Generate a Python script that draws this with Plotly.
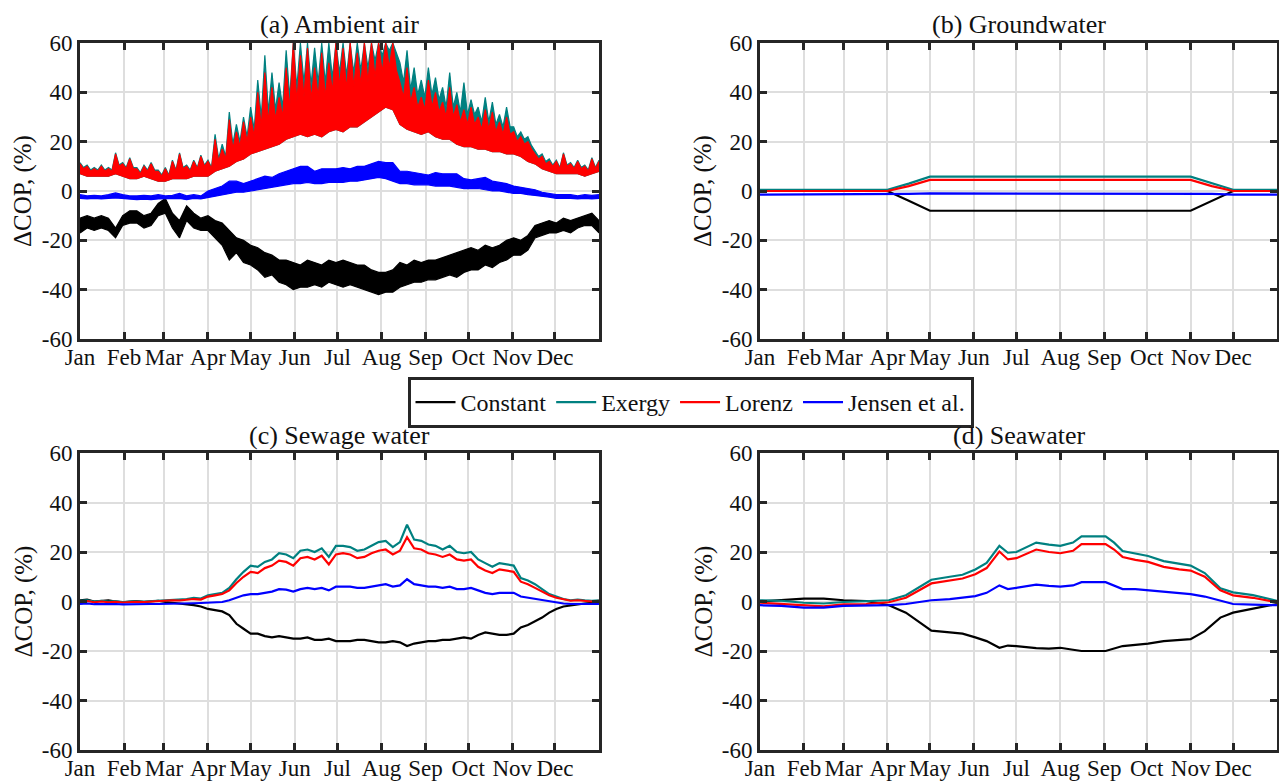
import plotly.graph_objects as go
from plotly.subplots import make_subplots

# ---------------- data ----------------
month_ticks = [0, 31, 59, 90, 120, 151, 181, 212, 243, 273, 304, 334]
month_labels = ["Jan", "Feb", "Mar", "Apr", "May", "Jun", "Jul", "Aug", "Sep", "Oct", "Nov", "Dec"]
y_ticks = [-60, -40, -20, 0, 20, 40, 60]

series_names = ["Constant", "Exergy", "Lorenz", "Jensen et al."]
series_colors = ["#000000", "#008080", "#ff0000", "#0000ff"]

# (a) Ambient air: spike tops, solid-band tops and lower envelopes of the hourly band, every 5 days
air_days = list(range(0, 366, 5))
air_lorenz_hi = [11, 10, 9, 10, 9, 15, 11, 13, 9, 10, 11, 8, 9, 12, 15, 10, 12, 14, 12, 21,
                 17, 29, 24, 28, 30, 40, 48, 42, 38, 50, 60, 55, 58, 50, 56, 52, 60, 58, 60, 56,
                 60, 60, 60, 60, 60, 44, 50, 42, 38, 45, 40, 36, 42, 35, 33, 34, 30, 33, 32, 28,
                 30, 24, 22, 20, 15, 14, 12, 12, 15, 11, 12, 10, 13, 12]
air_lorenz_mid = [9, 8, 8, 8, 8, 10, 9, 9, 7, 8, 8, 6, 6, 8, 9, 8, 9, 10, 9, 12,
                  13, 17, 18, 20, 22, 26, 28, 29, 30, 33, 36, 38, 37, 38, 38, 40, 42, 41, 42, 43,
                  44, 46, 48, 50, 49, 38, 36, 34, 33, 34, 32, 30, 30, 28, 27, 27, 25, 25, 24, 23,
                  23, 20, 19, 17, 13, 11, 10, 9, 10, 9, 9, 8, 9, 10]
air_lorenz_lo = [7, 6, 6, 6, 6, 7, 6, 5, 5, 6, 5, 4, 4, 5, 5, 5, 6, 6, 6, 8,
                 9, 10, 12, 13, 15, 16, 17, 18, 19, 21, 22, 23, 22, 23, 22, 24, 25, 24, 26, 26,
                 28, 30, 32, 34, 33, 27, 25, 24, 23, 24, 22, 21, 21, 19, 18, 18, 17, 17, 16, 16,
                 15, 15, 14, 12, 11, 9, 8, 7, 7, 7, 7, 6, 7, 8]
air_exergy_hi = [11.5, 10.5, 9.5, 10.5, 9.5, 15.5, 11.5, 13.5, 9.5, 10.5, 11.5, 8.5, 9.5, 12.5, 15.5,
                 10.5, 12.5, 14.5, 12.5, 23, 19, 32, 27, 30, 34, 45, 55, 48, 44, 57, 60, 60, 60, 58,
                 60, 60, 60, 60, 60, 60, 60, 60, 60, 60, 60, 52, 57, 50, 45, 50, 46, 42, 48, 40, 44,
                 37, 34, 38, 36, 31, 34, 26, 24, 22, 16, 15, 13, 12.5, 15.5, 11.5, 12.5, 10.5, 13.5, 12.5]
air_exergy_mid = [9.5, 8.5, 8.5, 8.5, 8.5, 10.5, 9.5, 9.5, 7.5, 8.5, 8.5, 6.5, 6.5, 8.5, 9.5,
                  8.5, 9.5, 10.5, 9.5, 13, 14, 19, 20, 22, 25, 30, 32, 33, 34, 38, 42, 44, 43, 44,
                  44, 46, 48, 47, 48, 49, 50, 53, 55, 57, 56, 44, 41, 39, 38, 39, 37, 34, 34, 32,
                  31, 31, 28, 28, 27, 26, 26, 22, 21, 18.5, 14, 12, 10.5, 9.5, 10.5, 9.5, 9.5, 8.5, 9.5, 10.5]
air_jensen_hi = [-1.5, -2, -1.8, -2, -1.5, -0.8, -1.5, -2, -2, -1.8, -2, -1.5, -2, -1.8, -1, -2,
                 -1.5, -2, 0, 1, 2, 4, 4, 3, 4, 5, 6, 5.5, 7, 8, 9, 10, 10, 8, 9, 9, 9, 9.5, 9, 10,
                 10, 11, 12, 11.5, 11.5, 8, 8, 7.5, 7, 6.5, 7.5, 7, 7, 7, 5, 4.5, 5, 5.5, 4, 3.5,
                 3, 2, 1.5, 1, 0.5, -0.5, -1, -1.5, -1.5, -1.5, -2, -1.5, -1.8, -1.5]
air_jensen_lo = [-3, -3.2, -3, -3.2, -3, -2.8, -3, -3.3, -3.5, -3.3, -3.5, -3.2, -3.3, -3, -3, -3.5,
                 -3, -3.2, -2.5, -2, -1.5, -1, -0.5, -0.5, 0, 0.5, 1, 1.5, 2, 2.5, 3, 3, 3.5, 3, 3,
                 3.5, 3.5, 3.5, 4, 4, 4.5, 5, 5.5, 5, 4, 3, 3, 2.5, 2.5, 2.5, 2, 2, 2, 1.5, 1, 1, 1,
                 0.5, 0, 0, -0.5, -1, -1, -1.5, -1.8, -2.3, -2.5, -3, -3, -3, -3.2, -3, -3.2, -3]
air_constant_hi = [-11, -10, -11, -10, -11, -15, -10, -8, -8, -10, -9, -5, -3, -9, -12, -6, -9, -11,
                   -10, -12, -13, -16, -19, -20, -22, -23, -25, -26, -28, -28, -29, -30, -28, -29,
                   -30, -28, -29, -28, -29, -30, -30, -32, -33, -33, -32, -29, -30, -28, -29, -28,
                   -28, -27, -26, -25, -24, -23, -24, -22, -23, -22, -20, -19, -20, -18, -14, -13,
                   -12, -13, -11, -12, -11, -10, -9, -12]
air_constant_lo = [-17, -15, -16, -15, -16, -19, -14, -13, -13, -15, -14, -10, -9, -15, -19, -12,
                   -15, -16, -16, -19, -22, -28, -25, -29, -30, -32, -35, -34, -37, -38, -40, -39,
                   -39, -38, -39, -37, -38, -39, -38, -39, -40, -41, -42, -41, -41, -39, -38, -37,
                   -37, -36, -36, -35, -34, -35, -33, -32, -32, -30, -31, -29, -28, -26, -26, -24,
                   -19, -18, -17, -17, -16, -17, -15, -14, -14, -17]

# (b) Groundwater
gw_days = [0, 90, 105, 120, 304, 319, 334, 365]
gw_constant = [0, 0, -4, -8, -8, -4, 0, 0]
gw_exergy = [0.5, 0.5, 3, 5.8, 5.8, 3, 0.5, 0.5]
gw_lorenz = [0, 0, 2, 4.5, 4.5, 2, 0, 0]
gw_jensen = [-1.5, -1.5, -1.2, -1, -1, -1.2, -1.5, -1.5]

# (c) Sewage water, every 5 days
sew_days = list(range(0, 366, 5))
sew_exergy = [0.3, 0.5, 0, 0.3, 0, 0.2, -0.2, 0, 0.1, 0, 0.2, 0.3, 0.5, 0.8, 0.7, 1, 1.5, 1.2, 2.5,
              3, 3.5, 5.5, 9, 12, 14.5, 14, 16, 17, 19.5, 19, 17.5, 20.5, 21, 20, 21.5, 18, 22.5,
              22.5, 22, 20.5, 21, 22.5, 24, 24.5, 22, 24, 31, 25, 24.5, 23, 22.5, 21, 22.5, 20,
              19.5, 20, 17, 15.5, 14, 15.5, 15, 14.5, 9.5, 8.5, 7, 5, 3, 2, 1, 0.5, 0.8, 0.5, 0.3, 0.5]
sew_lorenz = [0, 0.2, -0.3, 0, -0.3, -0.1, -0.4, -0.2, -0.1, -0.2, 0, 0, 0.2, 0.5, 0.4, 0.6, 1, 0.8,
              2, 2.5, 3, 4.5, 7.5, 10, 12, 11.5, 13.5, 14.5, 16.5, 16, 14.5, 17.5, 18, 17, 18.5, 15,
              19, 19.5, 19, 17.5, 18, 19.5, 20.5, 21, 19, 20.5, 26, 21.5, 21, 19.5, 19, 18, 19, 17,
              16.5, 17, 14, 12.5, 11.5, 13, 12.5, 12, 8, 7, 5.5, 4, 2.5, 1.5, 0.8, 0.3, 0.5, 0.2, 0, 0.3]
sew_jensen = [-1, -0.8, -1.1, -1, -1.1, -1, -1.2, -1.1, -1, -1.1, -1, -1, -1, -0.9, -0.9, -0.8,
              -0.7, -0.6, -0.5, -0.3, -0.2, 0.5, 1.5, 2.5, 3, 3, 3.5, 4, 5, 4.8, 4, 5, 5.5, 5, 5.5,
              4.5, 6, 6, 6, 5.5, 5.5, 6, 6.5, 7, 6, 6.5, 9, 7, 6.5, 6, 6, 5.5, 6, 5, 5, 5.5, 4.5,
              3.5, 3, 3.5, 3.5, 3.5, 2, 1.5, 1, 0.5, 0, -0.5, -0.8, -1, -1, -1.1, -1.2, -1]
sew_constant = [0.5, 0.8, 0, 0.3, 0.5, 0, -0.3, 0, 0.2, -0.2, 0, 0.3, -0.2, -0.5, -0.8, -1, -1.5,
                -2, -3, -3.5, -4, -5.5, -9, -11, -13, -13, -14, -14.5, -14, -14.5, -15, -15, -14.5,
                -15.5, -15.5, -15, -16, -16, -16, -15.5, -15.5, -16, -16.5, -16.5, -16, -16.5, -18,
                -17, -16.5, -16, -16, -15.5, -15.5, -15, -14.5, -15, -13.5, -12.5, -13, -13.5,
                -13.5, -13, -10.5, -9.5, -8, -6.5, -4.5, -3, -2, -1.5, -1, -0.8, -0.5, -1]

# (d) Seawater
sea_days = [0, 15, 31, 45, 59, 75, 91, 103, 121, 134, 143, 152, 160, 169, 175, 181, 195, 204,
            212, 221, 227, 244, 250, 256, 265, 274, 285, 296, 304, 314, 325, 334, 348, 365]
sea_exergy = [0.5, 0.3, -0.5, -0.8, -0.2, 0, 0.5, 2.5, 8.8, 10, 10.8, 12.9, 15.6, 22.5, 19.7, 20,
              23.8, 23, 22.5, 23.8, 26.3, 26.3, 23.8, 20.4, 19.3, 18.4, 16.3, 15.2, 14.5, 11.5,
              5.3, 3.7, 2.6, 0.3]
sea_lorenz = [-0.5, -1, -1.8, -2, -1.2, -1, -0.3, 1.5, 7.3, 8.5, 9.3, 11, 13.5, 20.2, 17, 17.5,
              21, 20, 19.5, 20.5, 23.2, 23.2, 21, 18, 16.8, 16, 14, 13, 12.5, 10, 4.5, 2.5, 1.5, -0.3]
sea_jensen = [-1.5, -1.8, -2.5, -2.5, -1.8, -1.6, -1.5, -1, 0.5, 1, 1.5, 2.2, 3.5, 6.5, 5, 5.5,
              6.8, 6.3, 6, 6.5, 7.8, 7.8, 6.5, 5, 5, 4.5, 4, 3.5, 3, 2, 0.3, -1, -1.3, -1.5]
sea_constant = [0, 0.5, 1.2, 1.2, 0.5, 0.2, -1.5, -4.5, -11.8, -12.5, -13, -14.5, -16, -18.7,
                -17.8, -18, -18.8, -19, -18.7, -19.5, -20, -20, -19, -18, -17.5, -17, -16,
                -15.5, -15.2, -12, -6.5, -4.5, -3, -1]

panel_titles = ["(a) Ambient air", "(b) Groundwater", "(c) Sewage water", "(d) Seawater"]
y_title = "ΔCOP, (%)"

# ---------------- figure ----------------
W, H = 1279, 783
FONT = "Liberation Serif, DejaVu Serif, serif"
AX = "#262626"
TXT = "#111111"

fig = make_subplots(rows=2, cols=2)

# panel pixel boxes: (left, right, top, bottom)
boxes = [(80, 599, 43, 339), (760, 1277, 43, 339), (80, 599, 453, 750), (760, 1277, 453, 750)]


def band(days, hi, lo, color, mid=None):
    """Closed polygon: upper edge (optionally alternating spike/solid tops), lower edge back."""
    up_x, up_y = [], []
    for i, d in enumerate(days):
        up_x.append(d)
        up_y.append(hi[i])
        if mid is not None and i < len(days) - 1:
            up_x.append(d + 2.5)
            up_y.append(mid[i])
    xs = up_x + list(days)[::-1]
    ys = up_y + list(lo)[::-1]
    fig.add_trace(go.Scatter(x=xs, y=ys, mode="lines", fill="toself", fillcolor=color,
                             line=dict(color=color, width=1.2), showlegend=False,
                             hoverinfo="skip"), row=1, col=1)


# (a) bands
band(air_days, air_constant_hi, air_constant_lo, series_colors[0])
band(air_days, air_exergy_hi, air_lorenz_lo, series_colors[1], air_exergy_mid)
band(air_days, air_lorenz_hi, air_lorenz_lo, series_colors[2], air_lorenz_mid)
band(air_days, air_jensen_hi, air_jensen_lo, series_colors[3])

panel_data = [
    ((1, 2), gw_days, [gw_constant, gw_exergy, gw_lorenz, gw_jensen], True),
    ((2, 1), sew_days, [sew_constant, sew_exergy, sew_lorenz, sew_jensen], False),
    ((2, 2), sea_days, [sea_constant, sea_exergy, sea_lorenz, sea_jensen], False),
]
for (r, c), days, ser, leg in panel_data:
    for name, color, vals in zip(series_names, series_colors, ser):
        fig.add_trace(go.Scatter(x=days, y=vals, mode="lines", name=name,
                                 line=dict(color=color, width=2.2), showlegend=leg),
                      row=r, col=c)

axis_common = dict(showline=True, mirror="ticks", linewidth=3, linecolor=AX,
                   ticks="inside", ticklen=7, tickwidth=3, tickcolor=AX,
                   showgrid=True, gridcolor="#dedede", gridwidth=2, zeroline=False,
                   automargin=False, tickangle=0,
                   tickfont=dict(family=FONT, size=23, color=TXT))

for i, (l, r_, t, b) in enumerate(boxes):
    row, col = i // 2 + 1, i % 2 + 1
    fig.update_xaxes(domain=[l / W, r_ / W], range=[0, 365], tickmode="array",
                     tickvals=month_ticks, ticktext=month_labels, ticklabelstandoff=-5,
                     row=row, col=col, **axis_common)
    fig.update_yaxes(domain=[1 - b / H, 1 - t / H], range=[-60, 60], tickmode="array",
                     tickvals=y_ticks, ticktext=[str(v) for v in y_ticks], row=row, col=col,
                     **axis_common)

annotations = []
for i, (l, r_, t, b) in enumerate(boxes):
    annotations.append(dict(text=panel_titles[i], x=(l + r_) / 2 / W, y=1 - (t - 18) / H,
                            xref="paper", yref="paper", xanchor="center", yanchor="middle",
                            showarrow=False, font=dict(family=FONT, size=26, color=TXT)))
    annotations.append(dict(text=y_title, x=(l - 57) / W, y=1 - (t + b) / 2 / H,
                            xref="paper", yref="paper", xanchor="center", yanchor="middle",
                            textangle=-90, showarrow=False,
                            font=dict(family=FONT, size=25, color=TXT)))

fig.update_layout(
    template="none",
    width=W, height=H, margin=dict(l=0, r=0, t=0, b=0, pad=0),
    paper_bgcolor="white", plot_bgcolor="white",
    font=dict(family=FONT, size=24, color=TXT),
    annotations=annotations,
    showlegend=True,
    legend=dict(orientation="h", x=690.5 / W, y=1 - 402.5 / H, xanchor="center",
                yanchor="middle", bordercolor=AX, borderwidth=3, bgcolor="white",
                font=dict(family=FONT, size=24, color=TXT), itemwidth=40,
                tracegroupgap=0),
)

fig.write_html("out.html", config={"displayModeBar": False})
